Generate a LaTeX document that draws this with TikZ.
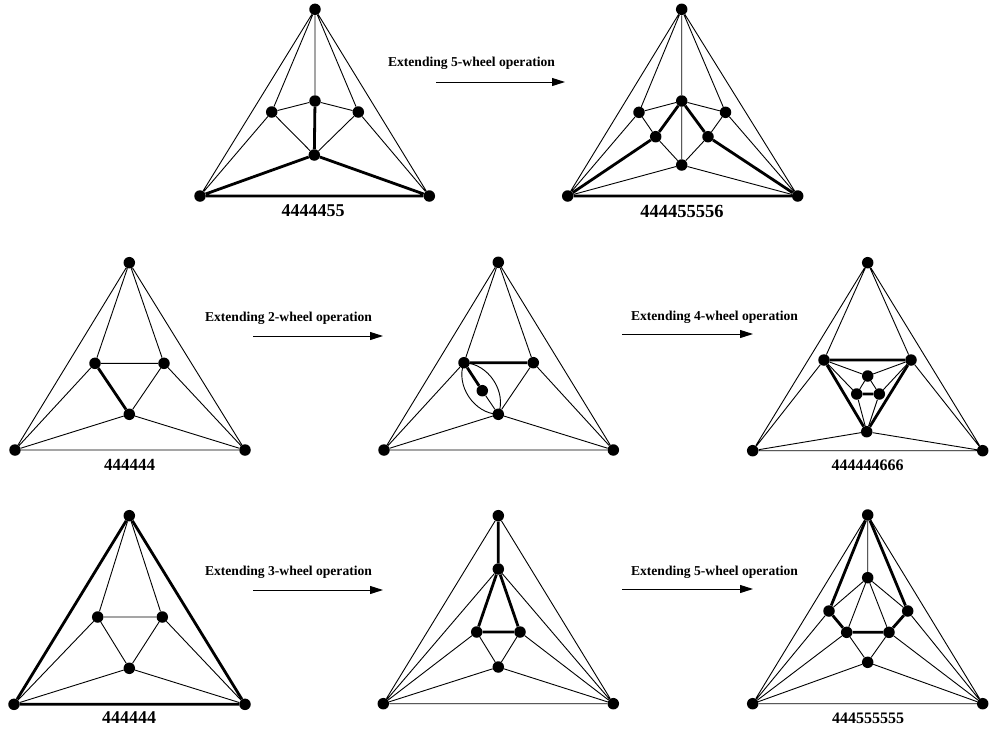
\documentclass[tikz,border=0pt]{standalone}
\usepackage{fontspec}
\setmainfont{Liberation Serif}
\usetikzlibrary{arrows.meta}
\tikzset{
  v/.style={circle,fill=black,draw=none,inner sep=0pt,minimum size=11.5pt},
  e/.style={line width=0.9pt},
  thk/.style={line width=2.8pt},
  optext/.style={font=\bfseries\fontsize{13.6}{16}\selectfont,inner sep=0pt},
  arr/.style={line width=1pt,-{Triangle[length=13pt,width=8pt]}},
  lbl/.style={inner sep=0pt,font=\bfseries\fontsize{#1}{#1}\selectfont},
  lbl/.default=17
}
\begin{document}
\begin{tikzpicture}[x=1pt,y=-1pt]
\useasboundingbox (0,0) rectangle (989,734);

% ---------- Graph 1 ----------
\node[v] (at) at (315,9.3) {};
\node[v] (ali) at (271.7,112) {};
\node[v] (aci) at (315,101) {};
\node[v] (ari) at (358.3,112) {};
\node[v] (alc) at (314.3,155) {};
\node[v] (abl) at (200,196) {};
\node[v] (abr) at (429.3,196) {};
\draw[e] (at)--(abl) (at)--(abr) (at)--(ali) (at)--(aci) (at)--(ari)
  (abl)--(ali) (abr)--(ari) (ali)--(aci) (aci)--(ari) (ali)--(alc) (ari)--(alc);
\draw[thk] (aci)--(alc) (alc)--(abl) (alc)--(abr) (abl)--(abr);
\node[lbl=18] (la) at (313,211) {4444455};

% ---------- Graph 2 ----------
\node[v] (bt) at (681.7,9.3) {};
\node[v] (bcu) at (681.7,101) {};
\node[v] (bl) at (639,112.3) {};
\node[v] (br) at (725.5,112.3) {};
\node[v] (blm) at (655.7,136.7) {};
\node[v] (brm) at (708,136.7) {};
\node[v] (blc) at (681.7,165) {};
\node[v] (bbl) at (567.7,196) {};
\node[v] (bbr) at (797.7,196) {};
\draw[e] (bt)--(bbl) (bt)--(bbr) (bt)--(bl) (bt)--(br) (bt)--(bcu)
  (bcu)--(blc) (bl)--(bcu) (bcu)--(br) (bl)--(blm) (blm)--(blc) (br)--(brm) (brm)--(blc)
  (blc)--(bbl) (blc)--(bbr) (bbl)--(bl) (bbr)--(br);
\draw[thk] (bcu)--(blm) (bcu)--(brm) (blm)--(bbl) (brm)--(bbr) (bbl)--(bbr);
\node[lbl=18.5] (lb) at (682,211) {444455556};

% arrow 1
\node[optext] (o1) at (471.5,63) {Extending 5-wheel operation};
\coordinate (o1s) at (436,82);
\coordinate (o1e) at (565,82);
\draw[arr] (o1s)--(o1e);

% ---------- Graph 3 ----------
\node[v] (ct) at (129.3,262.7) {};
\node[v] (cl) at (95,363.3) {};
\node[v] (cr) at (164,363.3) {};
\node[v] (clc) at (129.3,414.3) {};
\node[v] (cbl) at (15,450) {};
\node[v] (cbr) at (245,450) {};
\draw[e] (ct)--(cbl) (ct)--(cbr) (ct)--(cl) (ct)--(cr) (cl)--(cr) (cr)--(clc)
  (cl)--(cbl) (cr)--(cbr) (clc)--(cbl) (clc)--(cbr) (cbl)--(cbr);
\draw[thk] (cl)--(clc);
\node[lbl=17] (lc) at (129.5,465) {444444};

% arrow 2
\node[optext] (o2) at (288.5,318) {Extending 2-wheel operation};
\coordinate (o2s) at (253,336);
\coordinate (o2e) at (383,336);
\draw[arr] (o2s)--(o2e);

% ---------- Graph 4 ----------
\node[v] (dt) at (498.3,262.3) {};
\node[v] (dl) at (464,362.7) {};
\node[v] (dr) at (533.3,362.7) {};
\node[v] (din) at (482.3,390.7) {};
\node[v] (dlc) at (498.3,414.3) {};
\node[v] (dbl) at (384,450) {};
\node[v] (dbr) at (613.3,450) {};
\draw[e] (dt)--(dbl) (dt)--(dbr) (dt)--(dl) (dt)--(dr) (dr)--(dlc)
  (dl)--(dbl) (dr)--(dbr) (dlc)--(dbl) (dlc)--(dbr) (dbl)--(dbr) (din)--(dlc);
\draw[e] (dl.center) to[bend right=55] (dlc.center);
\draw[e] (dl.center) to[bend left=55] (dlc.center);
\draw[thk] (dl)--(dr) (dl)--(din);

% arrow 3
\node[optext] (o3) at (714.5,317) {Extending 4-wheel operation};
\coordinate (o3s) at (622,334);
\coordinate (o3e) at (753,334);
\draw[arr] (o3s)--(o3e);

% ---------- Graph 5 ----------
\node[v] (et) at (867.7,262.7) {};
\node[v] (el) at (824,360) {};
\node[v] (er) at (911,360) {};
\node[v] (eit) at (867.7,376) {};
\node[v] (eil) at (856.7,394) {};
\node[v] (eir) at (879.3,394) {};
\node[v] (elc) at (866.7,431.7) {};
\node[v] (ebl) at (752.7,450.7) {};
\node[v] (ebr) at (982.7,450.7) {};
\draw[e] (et)--(ebl) (et)--(ebr) (et)--(el) (et)--(er) (el)--(ebl) (er)--(ebr)
  (elc)--(ebl) (elc)--(ebr) (ebl)--(ebr)
  (el)--(eit) (er)--(eit) (el)--(eil) (er)--(eir) (eit)--(eil) (eit)--(eir)
  (eil)--(elc) (eir)--(elc);
\draw[thk] (el)--(er) (el)--(elc) (er)--(elc) (eil)--(eir);
\node[lbl=16] (le) at (867.5,465) {444444666};

% ---------- Graph 6 ----------
\node[v] (ft) at (129.3,515.7) {};
\node[v] (fl) at (97.7,617) {};
\node[v] (fr) at (162.3,617) {};
\node[v] (flc) at (129.3,668.3) {};
\node[v] (fbl) at (14,704.3) {};
\node[v] (fbr) at (245,704.3) {};
\draw[e] (ft)--(fl) (ft)--(fr) (fl)--(fr) (fl)--(flc) (fr)--(flc)
  (fl)--(fbl) (fr)--(fbr) (flc)--(fbl) (flc)--(fbr);
\draw[thk] (ft)--(fbl) (ft)--(fbr) (fbl)--(fbr);
\node[lbl=18] (lf) at (129,718) {444444};

% arrow 4
\node[optext] (o4) at (288.5,572) {Extending 3-wheel operation};
\coordinate (o4s) at (253,590);
\coordinate (o4e) at (383,590);
\draw[arr] (o4s)--(o4e);

% ---------- Graph 7 ----------
\node[v] (gt) at (498.3,515.7) {};
\node[v] (gm) at (498.3,569) {};
\node[v] (gl) at (476.7,632) {};
\node[v] (gr) at (520,632) {};
\node[v] (glc) at (498.3,667) {};
\node[v] (gbl) at (383.3,703.7) {};
\node[v] (gbr) at (613.3,703.7) {};
\draw[e] (gt)--(gbl) (gt)--(gbr) (gm)--(gbl) (gm)--(gbr) (gl)--(gbl) (gr)--(gbr)
  (gl)--(glc) (gr)--(glc) (glc)--(gbl) (glc)--(gbr) (gbl)--(gbr);
\draw[thk] (gt)--(gm) (gm)--(gl) (gm)--(gr) (gl)--(gr);

% arrow 5
\node[optext] (o5) at (714.5,572) {Extending 5-wheel operation};
\coordinate (o5s) at (622,589);
\coordinate (o5e) at (753,589);
\draw[arr] (o5s)--(o5e);

% ---------- Graph 8 ----------
\node[v] (ht) at (867.7,515) {};
\node[v] (hm) at (867.7,577.7) {};
\node[v] (hl) at (829,611) {};
\node[v] (hr) at (907.7,611) {};
\node[v] (hil) at (846.7,632.3) {};
\node[v] (hir) at (889,632.3) {};
\node[v] (hlc) at (867.7,662.3) {};
\node[v] (hbl) at (752.7,703.7) {};
\node[v] (hbr) at (982.7,703.7) {};
\draw[e] (ht)--(hbl) (ht)--(hbr) (ht)--(hm) (hm)--(hl) (hm)--(hr) (hm)--(hil) (hm)--(hir)
  (hl)--(hbl) (hr)--(hbr) (hil)--(hbl) (hir)--(hbr) (hil)--(hlc) (hir)--(hlc)
  (hlc)--(hbl) (hlc)--(hbr) (hbl)--(hbr);
\draw[thk] (ht)--(hl) (ht)--(hr) (hl)--(hil) (hil)--(hir) (hir)--(hr);
\node[lbl=16] (lh) at (868,718) {444555555};
\end{tikzpicture}
\end{document}
